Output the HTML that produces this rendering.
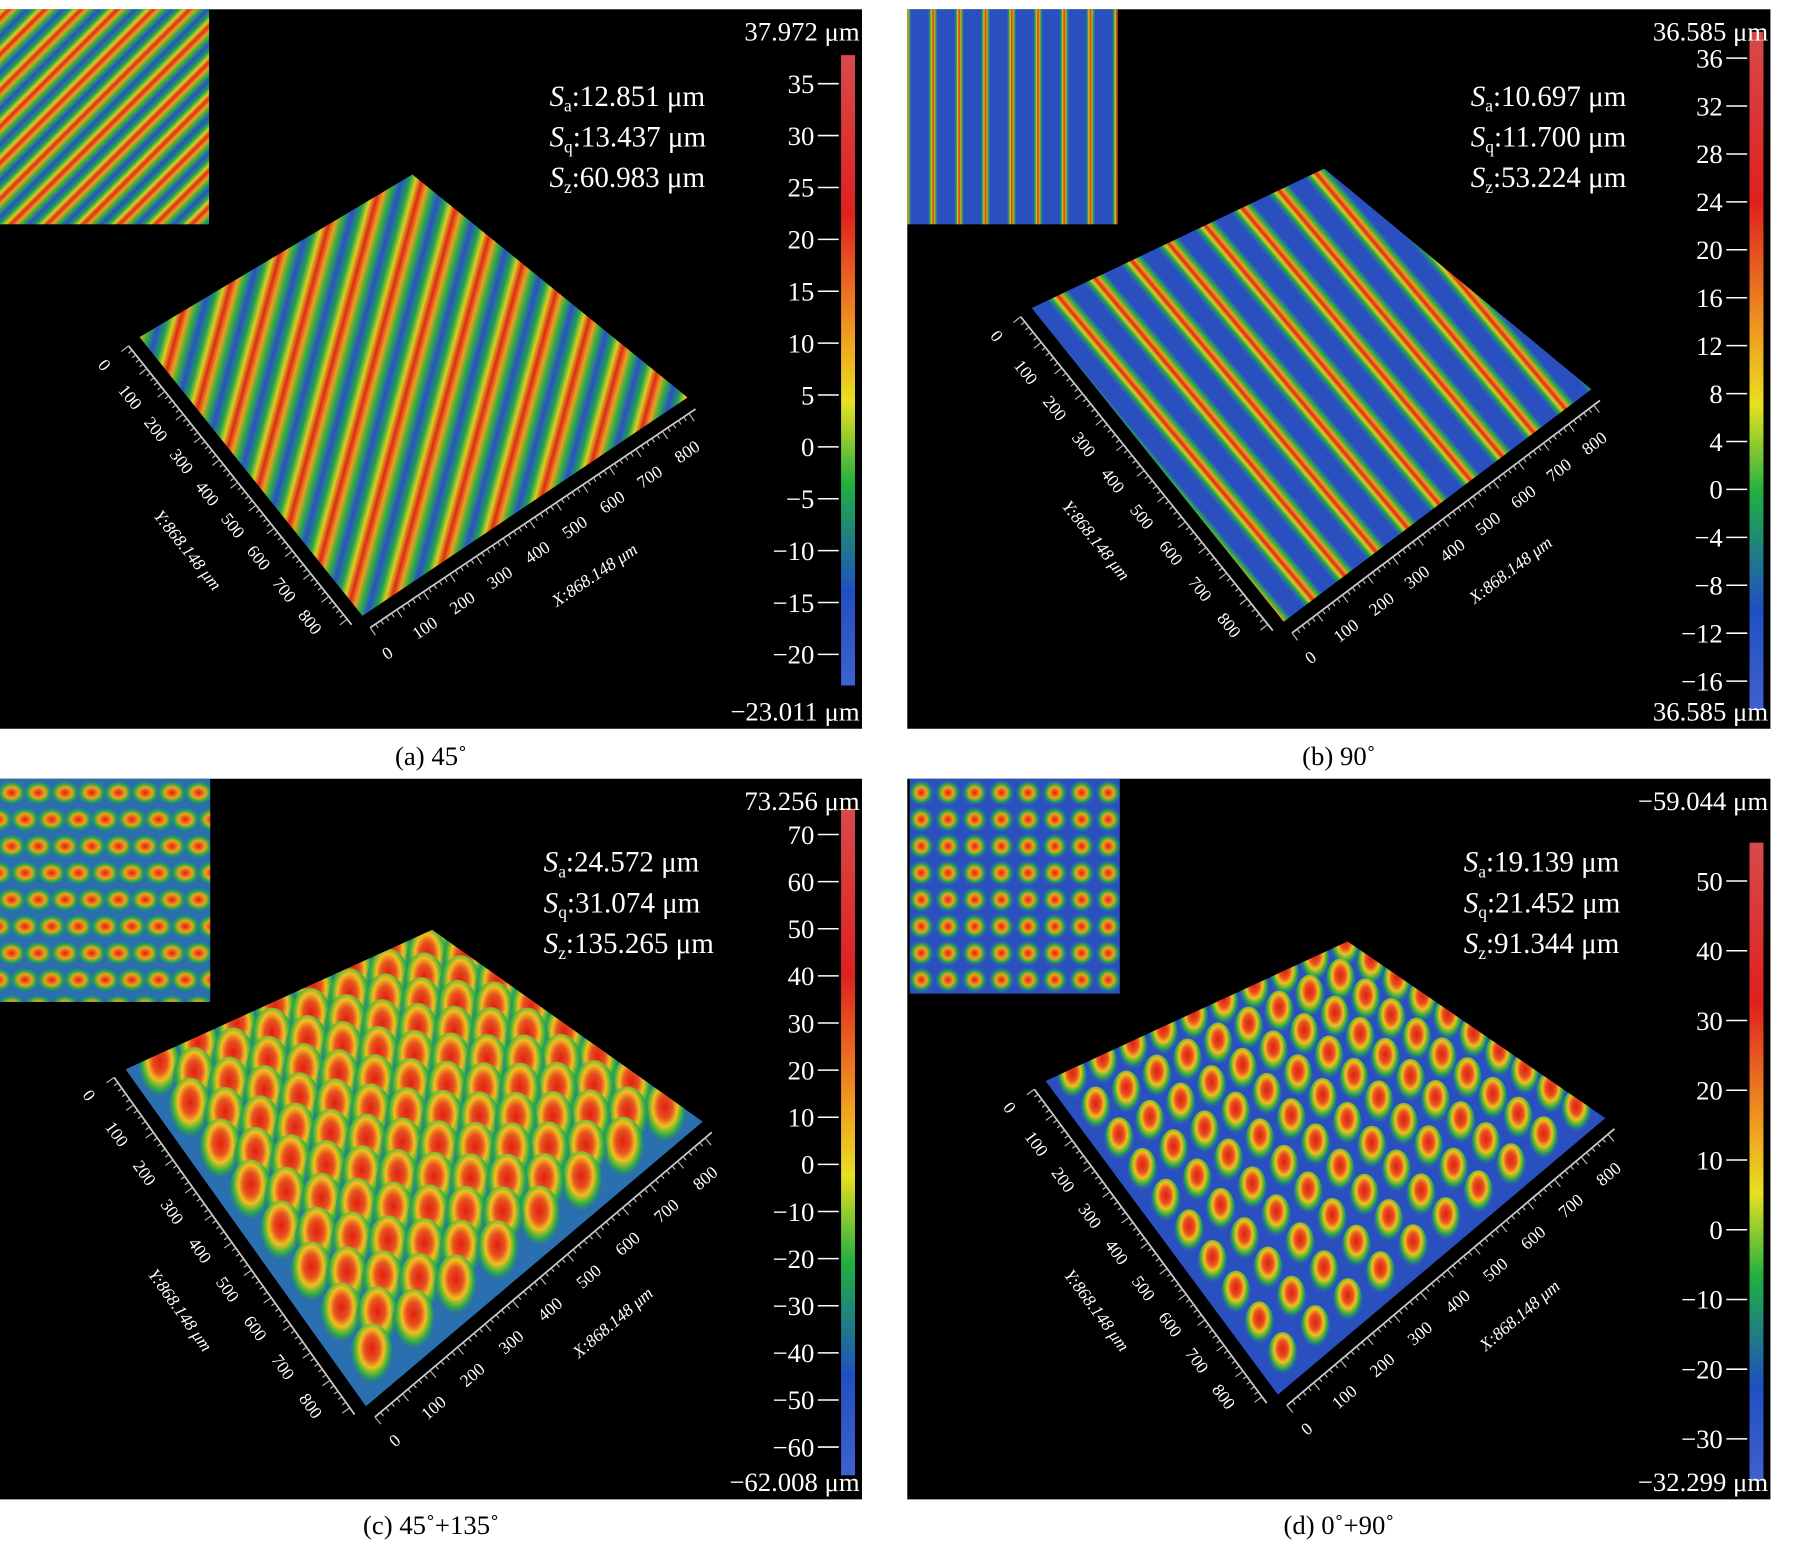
<!DOCTYPE html>
<html><head><meta charset="utf-8">
<style>
html,body{margin:0;padding:0;background:#fff;width:1818px;height:1547px;overflow:hidden}
#wrap{position:absolute;left:0;top:0;width:1565px;height:1331px;transform-origin:0 0;transform:scale(1.1617,1.1623)}
svg text{font-family:"Liberation Serif",serif}
</style></head><body>
<div id="wrap">
<svg id="s" width="1565" height="1331" xmlns="http://www.w3.org/2000/svg">
<defs>
<linearGradient id="cb" x1="0" y1="0" x2="0" y2="1">
<stop offset="0" stop-color="#d84a4a"/><stop offset="0.25" stop-color="#e02020"/><stop offset="0.45" stop-color="#f0a020"/><stop offset="0.55" stop-color="#e8e020"/><stop offset="0.68" stop-color="#20b040"/><stop offset="0.85" stop-color="#2050c0"/><stop offset="1" stop-color="#4060d0"/>
</linearGradient>
<linearGradient id="stripeG" x1="0" y1="0" x2="1" y2="0">
<stop offset="0" stop-color="#2a50c8"/><stop offset="0.2" stop-color="#20a050"/><stop offset="0.35" stop-color="#d8d020"/><stop offset="0.5" stop-color="#e02818"/><stop offset="0.65" stop-color="#e8a020"/><stop offset="0.8" stop-color="#30b040"/><stop offset="1" stop-color="#2a50c8"/>
</linearGradient>
<pattern id="patA" width="34" height="34" patternUnits="userSpaceOnUse" patternTransform="rotate(15)"><rect width="34" height="34" fill="url(#stripeG)"/></pattern>
<pattern id="patB" width="34" height="34" patternUnits="userSpaceOnUse" patternTransform="rotate(-40)"><rect width="34" height="34" fill="#2a50c0"/><rect x="14" width="20" height="34" fill="url(#stripeG)"/></pattern>
<pattern id="insA" width="22" height="22" patternUnits="userSpaceOnUse" patternTransform="rotate(45)"><rect width="22" height="22" fill="url(#stripeG)"/></pattern>
<pattern id="insB" width="22.6" height="22" patternUnits="userSpaceOnUse"><rect width="22.6" height="22" fill="#2a50c0"/><rect x="8" width="8" height="22" fill="url(#stripeG)"/></pattern>
<radialGradient id="blob" cx="0.5" cy="0.35" r="0.55"><stop offset="0" stop-color="#e02010"/><stop offset="0.3" stop-color="#e85020"/><stop offset="0.5" stop-color="#f0c020"/><stop offset="0.72" stop-color="#30b040"/><stop offset="1" stop-color="#2a50c0" stop-opacity="0"/></radialGradient>
<radialGradient id="blobI" cx="0.5" cy="0.5" r="0.5"><stop offset="0" stop-color="#e02010"/><stop offset="0.4" stop-color="#f0a020"/><stop offset="0.6" stop-color="#30b040"/><stop offset="1" stop-color="#2a50c0" stop-opacity="0"/></radialGradient>
</defs>
<g id="root"></g>
</svg>
</div>
<script>
// ---- colorbar tick data ----
const ticksA=[35,30,25,20,15,10,5,0,-5,-10,-15,-20];
const ticksB=[36,32,28,24,20,16,12,8,4,0,-4,-8,-12,-16];
const ticksC=[70,60,50,40,30,20,10,0,-10,-20,-30,-40,-50,-60];
const ticksD=[50,40,30,20,10,0,-10,-20,-30];
const statsA=["12.851","13.437","60.983"];
const statsB=["10.697","11.700","53.224"];
const statsC=["24.572","31.074","135.265"];
const statsD=["19.139","21.452","91.344"];
const axisTicks=[0,100,200,300,400,500,600,700,800];

const NS="http://www.w3.org/2000/svg";
const root=document.getElementById('root');
function el(tag,attrs,parent,txt){const e=document.createElementNS(NS,tag);for(const k in attrs)e.setAttribute(k,attrs[k]);if(txt!==undefined)e.textContent=txt;(parent||root).appendChild(e);return e;}

const panels=[
 {id:'a',x:0,y:8,w:742,h:619,cap:'(a) 45˚',capY:658,ticks:ticksA,t0y:72,t1y:563,top:'37.972 μm',bot:'−23.011 μm',stats:statsA,sx:473,sy:83,
  ins:[0,8,180,185],insFill:'url(#insA)',L:[120,290],T:[355,150],R:[592,342],B:[312,530],fill:'url(#patA)',kind:'stripe'},
 {id:'b',x:781,y:8,w:743,h:619,cap:'(b) 90˚',capY:658,ticks:ticksB,t0y:50,t1y:586,top:'36.585 μm',bot:'36.585 μm',stats:statsB,sx:1266,sy:83,
  ins:[781,8,181,185],insFill:'url(#insB)',L:[888,265],T:[1140,145],R:[1370,335],B:[1105,535],fill:'url(#patB)',kind:'stripe'},
 {id:'c',x:0,y:670,w:742,h:620,cap:'(c) 45˚+135˚',capY:1320,ticks:ticksC,t0y:718,t1y:1245,top:'73.256 μm',bot:'−62.008 μm',stats:statsC,sx:468,sy:742,
  ins:[0,670,181,192],L:[108,920],T:[372,800],R:[605,965],B:[315,1210],kind:'blobC'},
 {id:'d',x:781,y:670,w:743,h:620,cap:'(d) 0˚+90˚',capY:1320,ticks:ticksD,t0y:758,t1y:1238,top:'−59.044 μm',bot:'−32.299 μm',stats:statsD,sx:1260,sy:742,
  ins:[783,670,181,185],L:[900,930],T:[1160,810],R:[1382,962],B:[1100,1200],kind:'blobD'}
];

panels.forEach(p=>{
 const g=el('g',{});
 
 
 const bg=el('rect',{x:p.x,y:p.y,width:p.w,height:p.h,fill:'#000'},g);
 
 
 const pts=[p.L,p.T,p.R,p.B].map(q=>q.join(',')).join(' ');
 const clipId='clip'+p.id;
 const cp=el('clipPath',{id:clipId},g);el('polygon',{points:pts},cp);
 const sg=el('g',{'clip-path':'url(#'+clipId+')'},g);
 
 
 if(p.kind==='stripe'){el('polygon',{points:pts,fill:p.fill},sg);}
 else{
  el('polygon',{points:pts,fill:p.kind==='blobC'?'#2a70b0':'#2a50c0'},sg);
  const n=p.kind==='blobC'?8:10;
  const r=p.kind==='blobC'?19:13;
  const map=(u,v)=>{
   const x=(1-u)*(1-v)*p.L[0]+u*(1-v)*p.T[0]+u*v*p.R[0]+(1-u)*v*p.B[0];
   const y=(1-u)*(1-v)*p.L[1]+u*(1-v)*p.T[1]+u*v*p.R[1]+(1-u)*v*p.B[1];
   return [x,y];};
  const list=[];
  for(let i=0;i<n;i++)for(let j=0;j<n;j++){list.push([(i+0.5)/n,(j+0.5)/n]);
   if(p.kind==='blobC'&&i<n-1&&j<n-1)list.push([(i+1)/n,(j+1)/n]);}
  list.sort((a,b)=>map(a[0],a[1])[1]-map(b[0],b[1])[1]);
  list.forEach(([u,v])=>{const [px,py]=map(u,v);
   const b=el('ellipse',{cx:px,cy:py-8,rx:r,ry:r*1.6,fill:'url(#blob)'},sg);
   
   
  });
 }
 const off=12;
 function axis(A,Bp,name,rot,lab){
  const ax=el('g',{},g);
  
  
  const dx=Bp[0]-A[0],dy=Bp[1]-A[1],len=Math.hypot(dx,dy);
  const nx=-dy/len, ny=dx/len;
  const ox=nx*off,oy=ny*off;
  el('line',{x1:A[0]+ox,y1:A[1]+oy,x2:Bp[0]+ox,y2:Bp[1]+oy,stroke:'#ccc','stroke-width':1.5},ax);
  for(let k=0;k<=60;k++){const f=k/60*0.98;const x=A[0]+dx*f+ox,y=A[1]+dy*f+oy;
   el('line',{x1:x,y1:y,x2:x+nx*(k%5?4:8),y2:y+ny*(k%5?4:8),stroke:'#bbb','stroke-width':1},ax);}
  axisTicks.forEach(t=>{const f=t/868.148;const x=A[0]+dx*f+nx*(off+28),y=A[1]+dy*f+ny*(off+28);
   const tx=el('text',{x:x,y:y,fill:'#fff','font-size':15,'text-anchor':'middle','dominant-baseline':'middle',transform:`rotate(${rot} ${x} ${y})`},ax,String(t));
   
   });
  const mf=0.55;const mx=A[0]+dx*mf+nx*(off+75),my=A[1]+dy*mf+ny*(off+75);
  const at=el('text',{x:mx,y:my,fill:'#fff','font-size':15,'font-style':'italic','text-anchor':'middle',transform:`rotate(${rot} ${mx} ${my})`},ax,lab==='y'?'Y:868.148 μm':'X:868.148 μm');
  
  
 }
 const ang1=Math.atan2(p.B[1]-p.L[1],p.B[0]-p.L[0])*180/Math.PI;
 const ang2=Math.atan2(p.R[1]-p.B[1],p.R[0]-p.B[0])*180/Math.PI;
 axis(p.L,p.B,'y-axis',ang1,'y');
 axis(p.B,p.R,'x-axis',ang2,'x');
 const [ix,iy,iw,ih]=p.ins;
 const ig=el('g',{},g);
 
 
 if(p.insFill){el('rect',{x:ix,y:iy,width:iw,height:ih,fill:p.insFill},ig);}
 else{
  const icp=el('clipPath',{id:'ic'+p.id},ig);el('rect',{x:ix,y:iy,width:iw,height:ih},icp);
  const ig2=el('g',{'clip-path':'url(#ic'+p.id+')'},ig);
  el('rect',{x:ix,y:iy,width:iw,height:ih,fill:p.kind==='blobC'?'#2a70b0':'#2a50c0'},ig2);
  const s=23;
  for(let i=-1;i<=9;i++)for(let j=-1;j<=9;j++){
   const bx=ix+i*s+(p.kind==='blobC'?(j%2)*s/2:0)+10,by=iy+j*s+12;
   el('ellipse',{cx:bx,cy:by,rx:p.kind==='blobC'?15:12,ry:12,fill:'url(#blobI)'},ig2);
  }
 }
 const cbx=p.x+p.w-18;
 const span=(p.t1y-p.t0y)/(p.ticks.length-1);
 const cbTop=p.t0y-span*0.55, cbBot=p.t1y+span*0.6;
 const cbg=el('g',{},g);
 
 
 el('rect',{x:cbx,y:cbTop,width:12,height:cbBot-cbTop,fill:'url(#cb)'},cbg);
 const yScale=v=>p.t0y+(p.ticks[0]-v)*(p.t1y-p.t0y)/(p.ticks[0]-p.ticks[p.ticks.length-1]);
 p.ticks.forEach(v=>{const y=yScale(v);
  el('line',{x1:cbx-20,y1:y,x2:cbx-2,y2:y,stroke:'#fff','stroke-width':1.3},cbg);
  const t=el('text',{x:cbx-23,y:y+8,fill:'#fff','font-size':23,'text-anchor':'end'},cbg,v<0?'−'+Math.abs(v):String(v));
  
  
 });
 const tl=el('text',{x:p.x+p.w-2,y:p.y+27,fill:'#fff','font-size':23,'text-anchor':'end'},g,p.top);
 
 
 const bl=el('text',{x:p.x+p.w-2,y:p.y+p.h-7,fill:'#fff','font-size':23,'text-anchor':'end'},g,p.bot);
 
 
 const subs=['a','q','z'];
 p.stats.forEach((s,i)=>{
  const t=el('text',{x:p.sx,y:p.sy+i*35+8,fill:'#fff','font-size':25},g);
  
  
  el('tspan',{'font-style':'italic'},t,'S');
  el('tspan',{'font-size':15,dy:5},t,subs[i]);
  el('tspan',{dy:-5},t,':'+s+' μm');
 });
 const c=el('text',{x:p.x+p.w/2,y:p.capY,fill:'#000','font-size':23,'text-anchor':'middle'},root,p.cap);
 
 
});
</script>
</body></html>
